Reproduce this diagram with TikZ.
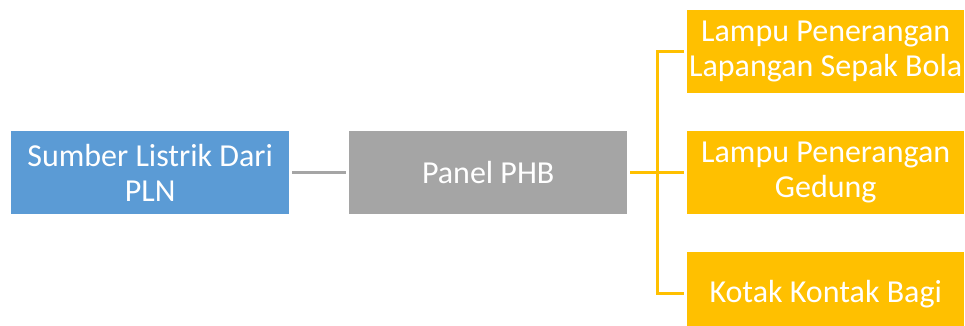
\documentclass[tikz,border=0pt]{standalone}
\usepackage{fontspec}
\setmainfont{Carlito}
\definecolor{boxblue}{HTML}{5B9BD5}
\definecolor{boxgray}{HTML}{A5A5A5}
\definecolor{boxgold}{HTML}{FFC000}
\begin{document}
\begin{tikzpicture}[x=1pt,y=-1pt,
  box/.style={minimum width=278pt,minimum height=83pt,inner sep=0pt,
    text=white,align=center,font=\fontsize{32}{35}\selectfont,anchor=north west},
  link/.style={line width=3pt}]
\useasboundingbox (0,0) rectangle (965,326);
\node[box,fill=boxblue] (src) at (11,131) {Sumber Listrik Dari\\PLN};
\node[box,fill=boxgray] (phb) at (349,131) {Panel PHB};
\node[box,fill=boxgold,minimum width=277pt] (l1) at (687,10) {Lampu Penerangan\\Lapangan Sepak Bola};
\node[box,fill=boxgold,minimum width=277pt] (l2) at (687,131) {Lampu Penerangan\\Gedung};
\node[box,fill=boxgold,minimum width=277pt] (l3) at (687,252) {Kotak Kontak Bagi};
\coordinate (bus) at (657.5,172.5);
\draw[link,boxgray] ([xshift=3pt]src.east) -- ([xshift=-3pt]phb.west);
\draw[link,boxgold] ([xshift=3pt]phb.east) -- ([xshift=-3pt]l2.west);
\draw[link,boxgold] ([xshift=-3pt]l1.west) -| (bus |- l3.west) -- ([xshift=-3pt]l3.west);
\end{tikzpicture}
\end{document}
